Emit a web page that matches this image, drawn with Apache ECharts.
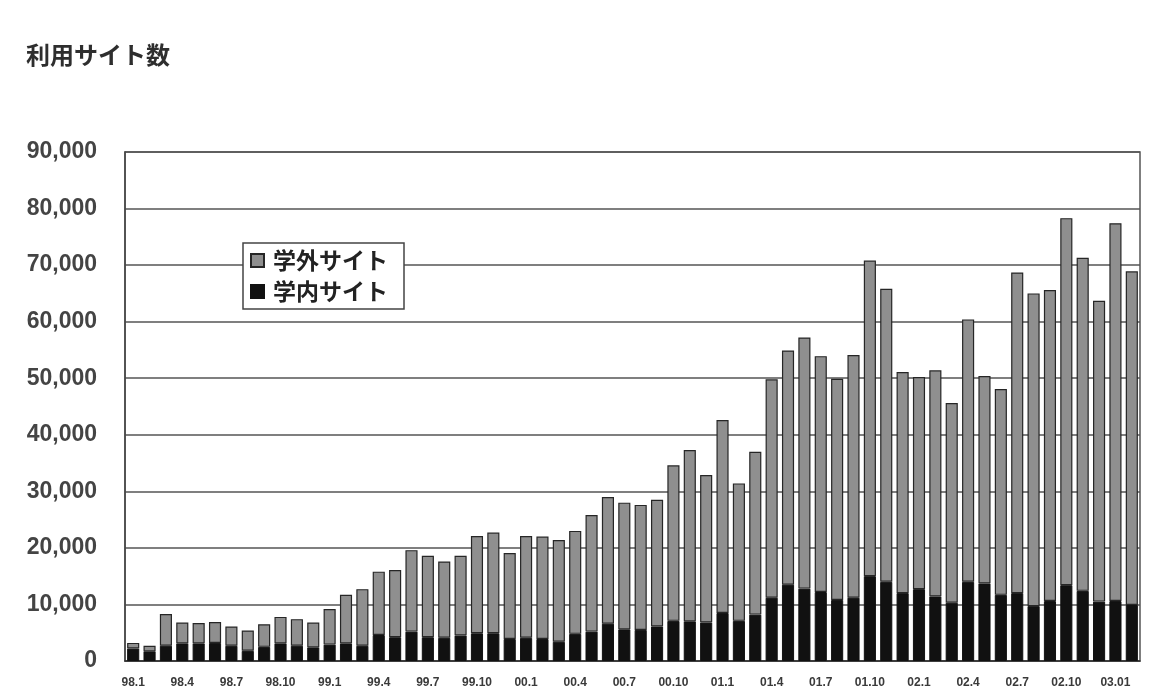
<!DOCTYPE html>
<html>
<head>
<meta charset="utf-8">
<script src="https://cdn.jsdelivr.net/npm/echarts@6/dist/echarts.min.js"></script>
<style>
html,body{margin:0;padding:0;background:#ffffff;}
#chart{width:1173px;height:697px;}
</style>
</head>
<body>
<div id="chart"></div>
<script>
// Month categories (98.1 ... 03.2); every third label is shown
const categories = [
  "98.1","98.2","98.3","98.4","98.5","98.6","98.7","98.8","98.9","98.10","98.11","98.12",
  "99.1","99.2","99.3","99.4","99.5","99.6","99.7","99.8","99.9","99.10","99.11","99.12",
  "00.1","00.2","00.3","00.4","00.5","00.6","00.7","00.8","00.9","00.10","00.11","00.12",
  "01.1","01.2","01.3","01.4","01.5","01.6","01.7","01.8","01.9","01.10","01.11","01.12",
  "02.1","02.2","02.3","02.4","02.5","02.6","02.7","02.8","02.9","02.10","02.11","02.12",
  "03.01","03.2"
];

// 学内サイト (inside campus) – black, bottom of stack
const insideSites = [
  2200,1700,2700,3100,3100,3200,2700,1800,2500,3100,2700,2400,
  2900,3100,2700,4600,4200,5200,4200,4100,4500,4900,4900,3900,
  4100,3900,3400,4800,5200,6600,5600,5500,6100,7100,7000,6800,
  8500,7100,8200,11200,13500,12800,12200,10800,11200,15000,14000,12000,
  12700,11400,10300,14000,13700,11700,12000,9700,10600,13400,12400,10500,
  10600,9900
];

// 学外サイト (outside campus) – gray, top of stack
const outsideSites = [
  1000,1000,5600,3700,3600,3700,3400,3600,4000,4700,4700,4400,
  6300,8600,10000,11200,11900,14400,14400,13500,14100,17200,17800,15200,
  18000,18100,18000,18200,20600,22400,22400,22100,22400,27500,30300,26100,
  34100,24300,28800,38600,41400,44400,41700,39100,42900,55800,51800,39100,
  37500,40000,35300,46400,36700,36400,56700,55300,55000,64900,58900,53200,
  66800,59000
];

const seriesNames = ["学外サイト", "学内サイト"];
const yTicks = { min: 0, max: 90000, interval: 10000 };
const titleText = "利用サイト数";

const chart = echarts.init(document.getElementById('chart'), null, {renderer: 'canvas'});

const fmt = v => String(v).replace(/\B(?=(\d{3})+(?!\d))/g, ',');

chart.setOption({
  backgroundColor: '#ffffff',
  animation: false,
  title: {
    text: titleText,
    left: 21,
    top: 38,
    textStyle: {
      fontFamily: '"Noto Sans CJK JP", sans-serif',
      fontSize: 24,
      fontWeight: 'bold',
      color: '#2e2e2e'
    }
  },
  legend: {
    data: seriesNames,
    orient: 'vertical',
    left: 243,
    top: 243,
    padding: [6, 16, 6, 7],
    itemGap: 8,
    itemWidth: 13,
    itemHeight: 13,
    icon: 'rect',
    backgroundColor: '#ffffff',
    borderColor: '#444',
    borderWidth: 1.5,
    textStyle: {
      fontFamily: '"Noto Sans CJK JP", sans-serif',
      fontSize: 23,
      fontWeight: 'bold',
      color: '#222',
      padding: [0, 0, 0, 4]
    }
  },
  grid: {
    left: 125,
    right: 33,
    top: 152,
    bottom: 36,
    show: true,
    borderColor: '#555',
    borderWidth: 1.5,
    backgroundColor: 'transparent'
  },
  xAxis: {
    type: 'category',
    data: categories,
    axisTick: { show: false },
    axisLine: { lineStyle: { color: '#333', width: 1.5 } },
    axisLabel: {
      interval: 2,
      margin: 16,
      fontFamily: '"Liberation Sans", Arial, sans-serif',
      fontSize: 12,
      fontWeight: 'bold',
      color: '#3a3a3a'
    }
  },
  yAxis: {
    type: 'value',
    min: yTicks.min,
    max: yTicks.max,
    interval: yTicks.interval,
    axisLine: { show: true, lineStyle: { color: '#444', width: 1.5 } },
    axisTick: { show: false },
    splitLine: { lineStyle: { color: '#555', width: 1.5 } },
    axisLabel: {
      margin: 28,
      formatter: fmt,
      fontFamily: '"Liberation Sans", Arial, sans-serif',
      fontSize: 23,
      fontWeight: 'bold',
      color: '#444'
    }
  },
  series: [
    {
      name: seriesNames[1],
      type: 'bar',
      stack: 'total',
      data: insideSites,
      barCategoryGap: '26%',
      itemStyle: { color: '#111111', borderColor: '#111', borderWidth: 1 }
    },
    {
      name: seriesNames[0],
      type: 'bar',
      stack: 'total',
      data: outsideSites,
      barCategoryGap: '26%',
      itemStyle: { color: '#8f8f8f', borderColor: '#262626', borderWidth: 1.2 }
    }
  ]
});
</script>
</body>
</html>
